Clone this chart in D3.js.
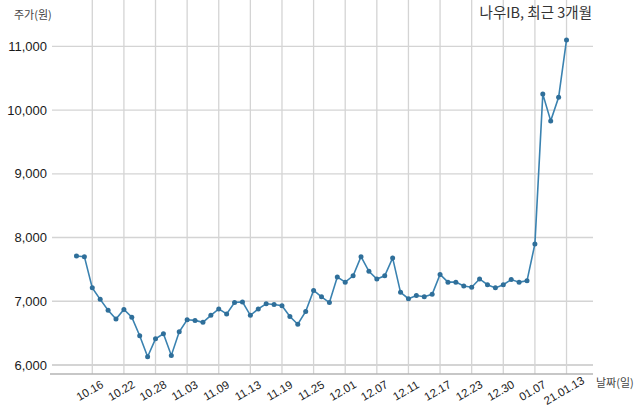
<!DOCTYPE html>
<html>
<head>
<meta charset="utf-8">
<script src="https://cdn.jsdelivr.net/npm/d3@7"></script>
<style>
  body { margin: 0; background: #fff; }
  svg { display: block; font-family: "Noto Sans CJK KR", "Noto Sans", sans-serif; }
</style>
</head>
<body>
<svg width="640" height="414"></svg>
<script>
var dates = ["10.14","10.15","10.16","10.19","10.20","10.21","10.22","10.23","10.26","10.27",
             "10.28","10.29","10.30","11.02","11.03","11.04","11.05","11.06","11.09","11.10",
             "11.11","11.12","11.13","11.16","11.17","11.18","11.19","11.20","11.23","11.24",
             "11.25","11.26","11.27","11.30","12.01","12.02","12.03","12.04","12.07","12.08",
             "12.09","12.10","12.11","12.14","12.15","12.16","12.17","12.18","12.21","12.22",
             "12.23","12.24","12.28","12.29","12.30","01.04","01.05","01.06","01.07","01.08",
             "01.11","01.12","21.01.13"];

var prices = [7710,7700,7210,7030,6860,6720,6870,6750,6460,6130,
              6410,6490,6150,6520,6710,6700,6670,6780,6880,6800,
              6980,6990,6780,6880,6960,6950,6930,6760,6640,6840,
              7170,7070,6980,7380,7300,7400,7700,7470,7350,7400,
              7680,7140,7040,7090,7070,7110,7420,7300,7300,7240,
              7220,7350,7260,7210,7260,7340,7300,7320,7900,10250,
              9830,10200,11100];

var xTicks = ["10.16","10.22","10.28","11.03","11.09","11.13","11.19","11.25",
              "12.01","12.07","12.11","12.17","12.23","12.30","01.07","21.01.13"];

var yTicks = [6000, 7000, 8000, 9000, 10000, 11000];

var svg    = d3.select("svg"),
    left   = 50,
    right  = 593,
    top    = 22,
    bottom = 374,
    x      = d3.scalePoint()
               .domain(dates)
               .range([left, right])
               .padding(3.35),
    y      = d3.scaleLinear()
               .domain([6000, 11000])
               .range([365, 46.3]),
    fmt    = d3.format(",");

// grid
svg.append("g")
  .selectAll("line")
  .data(yTicks)
  .enter().append("line")
    .attr("x1", left + 2)
    .attr("x2", right)
    .attr("y1", d => y(d))
    .attr("y2", d => y(d))
    .attr("stroke", "#d4d4d4")
    .attr("stroke-width", d => d == 6000 ? 2.2 : 1.3);

svg.append("g")
  .selectAll("line")
  .data(xTicks)
  .enter().append("line")
    .attr("x1", d => x(d))
    .attr("x2", d => x(d))
    .attr("y1", top)
    .attr("y2", bottom)
    .attr("stroke", "#d4d4d4")
    .attr("stroke-width", 1.3);

// bottom axis
var xAxis = svg.append("g")
  .attr("transform", "translate(0," + bottom + ")")
  .call(d3.axisBottom(x).tickValues(xTicks).tickSize(0).tickSizeOuter(0));

xAxis.select(".domain")
  .attr("stroke", "#b5b5b5")
  .attr("stroke-width", 1.3)
  .attr("d", "M" + left + ",0H" + right);

xAxis.selectAll("text")
  .attr("y", 0)
  .attr("dy", 0)
  .attr("fill", "#222")
  .style("font-size", "11.5px")
  .attr("text-anchor", "middle")
  .attr("transform", "translate(-1,20) rotate(-30)");

// left labels
var yAxis = svg.append("g")
  .attr("transform", "translate(" + 47 + ",0)")
  .call(d3.axisLeft(y).tickValues(yTicks).tickFormat(fmt).tickSize(0));

yAxis.select(".domain").remove();
yAxis.selectAll("text")
  .attr("x", 0)
  .attr("fill", "#1a1a1a")
  .style("font-size", "13px");

// line + dots
var line = d3.line()
  .x((d, i) => x(dates[i]))
  .y(d => y(d));

svg.append("path")
  .datum(prices)
  .attr("fill", "none")
  .attr("stroke", "#3a82b0")
  .attr("stroke-width", 1.6)
  .attr("d", line);

svg.append("g")
  .selectAll("circle")
  .data(prices)
  .enter().append("circle")
    .attr("cx", (d, i) => x(dates[i]))
    .attr("cy", d => y(d))
    .attr("r", 2.5)
    .attr("fill", "#2f6f9a");

// texts
svg.append("text")
  .attr("x", 14)
  .attr("y", 19)
  .attr("fill", "#444")
  .style("font-size", "11px")
  .text("주가(원)");

svg.append("text")
  .attr("x", 592)
  .attr("y", 18)
  .attr("text-anchor", "end")
  .attr("fill", "#333")
  .style("font-size", "14.5px")
  .text("나우IB, 최근 3개월");

svg.append("text")
  .attr("x", 596)
  .attr("y", 387)
  .attr("fill", "#444")
  .style("font-size", "11px")
  .text("날짜(일)");
</script>
</body>
</html>
